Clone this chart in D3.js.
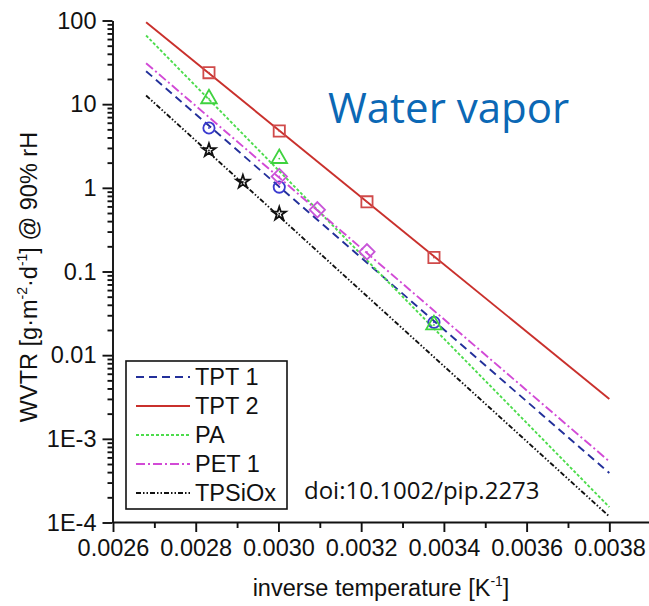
<!DOCTYPE html>
<html>
<head>
<meta charset="utf-8">
<script src="https://cdn.jsdelivr.net/npm/d3@7/dist/d3.min.js"></script>
<style>
  body { margin: 0; background: #fff; }
  svg { display: block; }
  text { font-family: "Liberation Sans", Arial, sans-serif; }
</style>
</head>
<body>
<svg width="649" height="606"></svg>
<script>
// series names (legend order)
var names = ["TPT 1", "TPT 2", "PA", "PET 1", "TPSiOx"];

// fitted lines: inverse temperature range and WVTR at both ends
var fitX = [0.00268, 0.0038];
var fitStart = [24.8, 95.4, 66.2, 30.9, 12.7];
var fitEnd = [0.00039, 0.0030, 0.000153, 0.000537, 0.000118];

// measured points (inverse temperature, WVTR)
var tpt1X = [0.002832, 0.003002, 0.003376];
var tpt1Y = [5.19, 1.02, 0.0247];
var tpt2X = [0.002832, 0.003002, 0.003214, 0.003376];
var tpt2Y = [23.8, 4.77, 0.68, 0.147];
var paX = [0.002832, 0.003002, 0.003376];
var paY = [11.6, 2.24, 0.023];
var pet1X = [0.003002, 0.003094, 0.003214];
var pet1Y = [1.37, 0.546, 0.172];
var tpsiX = [0.002832, 0.002914, 0.003002];
var tpsiY = [2.81, 1.18, 0.49];

// axis ticks
var xTicks = [0.0026, 0.0028, 0.0030, 0.0032, 0.0034, 0.0036, 0.0038];
var yTicks = [100, 10, 1, 0.1, 0.01, 1e-3, 1e-4];
var yTickLabels = ["100", "10", "1", "0.1", "0.01", "1E-3", "1E-4"];

// styles
var lineColors = ["#23309a", "#c9302c", "#4ddc4d", "#d24ad6", "#111111"];
var markColors = ["#3a3ad0", "#d04a4a", "#3fd23f", "#c855d8", "#111111"];
var dashes = ["8,5", null, "3,2", "9,3,2,3", "5,2,1.5,2,1.5,2"];
var shapes = [d3.symbolCircle, d3.symbolSquare, d3.symbolTriangle, d3.symbolSquare, d3.symbolStar];
var shapeSizes = [100, 125, 105, 118, 55];
var shapeRot = [0, 0, 0, 45, 0];
var fontSize = 23.5;

var pointsX = [tpt1X, tpt2X, paX, pet1X, tpsiX];
var pointsY = [tpt1Y, tpt2Y, paY, pet1Y, tpsiY];

var svg = d3.select("svg");

var x = d3.scaleLinear().domain([0.0026, 0.0039]).range([113, 650.7]);
var y = d3.scaleLog().domain([1e-4, 100]).range([522.5, 20.5]);

// minor ticks
var xMinor = d3.range(0.0027, 0.0039, 0.0002);
var yMinor = [];
[1e-4, 1e-3, 0.01, 0.1, 1, 10].forEach(function (d) {
  for (var k = 2; k <= 9; k++) yMinor.push(d * k);
});

var axisStyle = function (g) {
  g.selectAll("path, line").attr("stroke", "#111").attr("stroke-width", 1.9);
  g.selectAll("text").attr("font-size", fontSize).attr("fill", "#111");
};

svg.append("g")
  .attr("transform", "translate(0,522)")
  .call(d3.axisBottom(x).tickValues(xMinor).tickSize(6).tickFormat(""))
  .call(axisStyle)
  .select(".domain").remove();

svg.append("g")
  .attr("transform", "translate(0,522)")
  .call(d3.axisBottom(x).tickValues(xTicks).tickSize(10).tickSizeOuter(0).tickPadding(7).tickFormat(d3.format(".4f")))
  .call(axisStyle);

svg.append("g")
  .attr("transform", "translate(112.5,0)")
  .call(d3.axisLeft(y).tickValues(yMinor).tickSize(5).tickFormat(""))
  .call(axisStyle)
  .select(".domain").remove();

svg.append("g")
  .attr("transform", "translate(112.5,0)")
  .call(d3.axisLeft(y).tickValues(yTicks).tickSize(10).tickSizeOuter(0).tickPadding(6)
    .tickFormat(function (d, i) { return yTickLabels[i]; }))
  .call(axisStyle);

// fitted lines
var line = d3.line().x(function (d) { return x(d[0]); }).y(function (d) { return y(d[1]); });

names.forEach(function (name, i) {
  svg.append("path")
    .datum([[fitX[0], fitStart[i]], [fitX[1], fitEnd[i]]])
    .attr("d", line)
    .attr("fill", "none")
    .attr("stroke", lineColors[i])
    .attr("stroke-width", 1.9)
    .attr("stroke-dasharray", dashes[i]);
});

// markers
names.forEach(function (name, i) {
  var pts = pointsX[i].map(function (v, j) { return [v, pointsY[i][j]]; });
  var g = svg.append("g");
  g.selectAll("path")
    .data(pts)
    .enter()
    .append("path")
    .attr("transform", function (d) { return "translate(" + x(d[0]) + "," + y(d[1]) + ") rotate(" + shapeRot[i] + ")"; })
    .attr("d", d3.symbol().type(shapes[i]).size(shapeSizes[i]))
    .attr("fill", "none")
    .attr("stroke", markColors[i])
    .attr("stroke-width", 1.8);
  g.selectAll("circle")
    .data(pts)
    .enter()
    .append("circle")
    .attr("cx", function (d) { return x(d[0]); })
    .attr("cy", function (d) { return y(d[1]); })
    .attr("r", 0.9)
    .attr("fill", markColors[i]);
});

// legend
var legend = svg.append("g");
legend.append("rect")
  .attr("x", 126).attr("y", 361)
  .attr("width", 161).attr("height", 148)
  .attr("fill", "#fff")
  .attr("stroke", "#111")
  .attr("stroke-width", 1.6);

names.forEach(function (name, i) {
  var ly = 377 + i * 29;
  legend.append("line")
    .attr("x1", 136).attr("x2", 190)
    .attr("y1", ly).attr("y2", ly)
    .attr("stroke", lineColors[i])
    .attr("stroke-width", 1.9)
    .attr("stroke-dasharray", dashes[i]);
  legend.append("text")
    .attr("x", 195).attr("y", ly)
    .attr("dy", "0.36em")
    .attr("font-size", fontSize)
    .attr("fill", "#111")
    .text(name);
});

// axis titles
var yt = svg.append("text")
  .attr("transform", "translate(37,277) rotate(-90)")
  .attr("text-anchor", "middle")
  .attr("font-size", fontSize)
  .attr("fill", "#111");
yt.append("tspan").text("WVTR [g\u00b7m");
yt.append("tspan").attr("font-size", 14).attr("dy", -10).text("-2");
yt.append("tspan").attr("dy", 10).text("\u00b7d");
yt.append("tspan").attr("font-size", 14).attr("dy", -10).text("-1");
yt.append("tspan").attr("dy", 10).text("] @ 90% rH");

var xt = svg.append("text")
  .attr("x", 381).attr("y", 596)
  .attr("text-anchor", "middle")
  .attr("font-size", fontSize)
  .attr("fill", "#111");
xt.append("tspan").text("inverse temperature [K");
xt.append("tspan").attr("font-size", 14).attr("dy", -10).text("-1");
xt.append("tspan").attr("dy", 10).text("]");

// annotations
svg.append("text")
  .attr("x", 328).attr("y", 123)
  .style("font-family", "'Open Sans', sans-serif")
  .attr("font-size", 42)
  .attr("fill", "#0b68b5")
  .text("Water vapor");

svg.append("text")
  .attr("x", 304).attr("y", 499)
  .style("font-family", "'Open Sans', sans-serif")
  .attr("font-size", 24)
  .attr("fill", "#111")
  .text("doi:10.1002/pip.2273");
</script>
</body>
</html>
